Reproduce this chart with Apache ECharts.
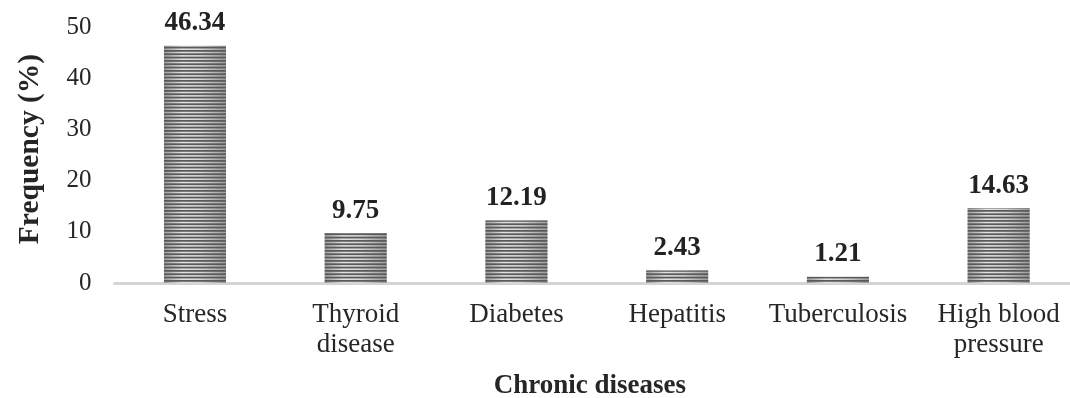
<!DOCTYPE html>
<html>
<head>
<meta charset="utf-8">
<style>
  html, body { margin: 0; padding: 0; background: #fff; }
  #chart { width: 1070px; height: 398px; }
</style>
<script src="https://cdn.jsdelivr.net/npm/echarts@6/dist/echarts.min.js"></script>
</head>
<body>
<div id="chart"></div>
<script>
// Chronic diseases reported, share of respondents (%)
const categories = ['Stress', 'Thyroid\ndisease', 'Diabetes', 'Hepatitis', 'Tuberculosis', 'High blood\npressure'];
const frequency = [46.34, 9.75, 12.19, 2.43, 1.21, 14.63];
const yTicks = { min: 0, max: 50, interval: 10 };

const SERIF = '"Liberation Serif", "Times New Roman", serif';

// Horizontal dark stripes laid over the shaded bar body
function stripeCanvas() {
  const c = document.createElement('canvas');
  c.width = 4; c.height = 10;
  const g = c.getContext('2d');
  g.fillStyle = '#5a5a5a';
  for (let i = 0; i < 3; i++) {
    g.fillRect(0, i * 10 / 3, 4, 1.75);
  }
  return c;
}

const chart = echarts.init(document.getElementById('chart'), null, { renderer: 'canvas' });

chart.setOption({
  animation: false,
  backgroundColor: '#ffffff',
  grid: { left: 114.6, right: -9, top: 27, bottom: 115, containLabel: false, outerBoundsMode: 'none' },
  xAxis: {
    type: 'category',
    data: categories,
    axisLine: { lineStyle: { color: '#d4d4d4', width: 3 } },
    axisTick: { show: false },
    axisLabel: {
      fontFamily: SERIF, fontSize: 27, color: '#262626', lineHeight: 30, margin: 17, interval: 0
    },
    name: 'Chronic diseases',
    nameLocation: 'middle',
    nameGap: 90,
    nameTextStyle: { fontFamily: SERIF, fontSize: 27, fontWeight: 'bold', color: '#262626', padding: [0, 14, 0, 0] }
  },
  yAxis: {
    type: 'value',
    min: yTicks.min, max: yTicks.max, interval: yTicks.interval,
    axisLine: { show: false },
    axisTick: { show: false },
    splitLine: { show: false },
    axisLabel: { fontFamily: SERIF, fontSize: 25, color: '#262626', margin: 23 },
    name: 'Frequency (%)',
    nameLocation: 'middle',
    nameGap: 69,
    nameTextStyle: { fontFamily: SERIF, fontSize: 29.5, fontWeight: 'bold', color: '#262626', padding: [0, 0, 0, 12] }
  },
  series: [
    {
      type: 'bar',
      data: frequency,
      barWidth: 62,
      itemStyle: {
        color: new echarts.graphic.LinearGradient(0, 0, 1, 0, [
          { offset: 0, color: '#9c9c9c' },
          { offset: 0.3, color: '#e2e2e2' },
          { offset: 0.6, color: '#d4d4d4' },
          { offset: 1, color: '#9a9a9a' }
        ])
      },
      label: {
        show: true,
        position: 'top',
        distance: 9,
        fontFamily: SERIF,
        fontSize: 27,
        fontWeight: 'bold',
        color: '#222222',
        formatter: p => p.value.toFixed(2)
      },
      z: 2
    },
    {
      type: 'bar',
      data: frequency,
      barWidth: 62,
      barGap: '-100%',
      silent: true,
      itemStyle: { color: { image: stripeCanvas(), repeat: 'repeat' } },
      z: 3
    }
  ]
});
</script>
</body>
</html>
